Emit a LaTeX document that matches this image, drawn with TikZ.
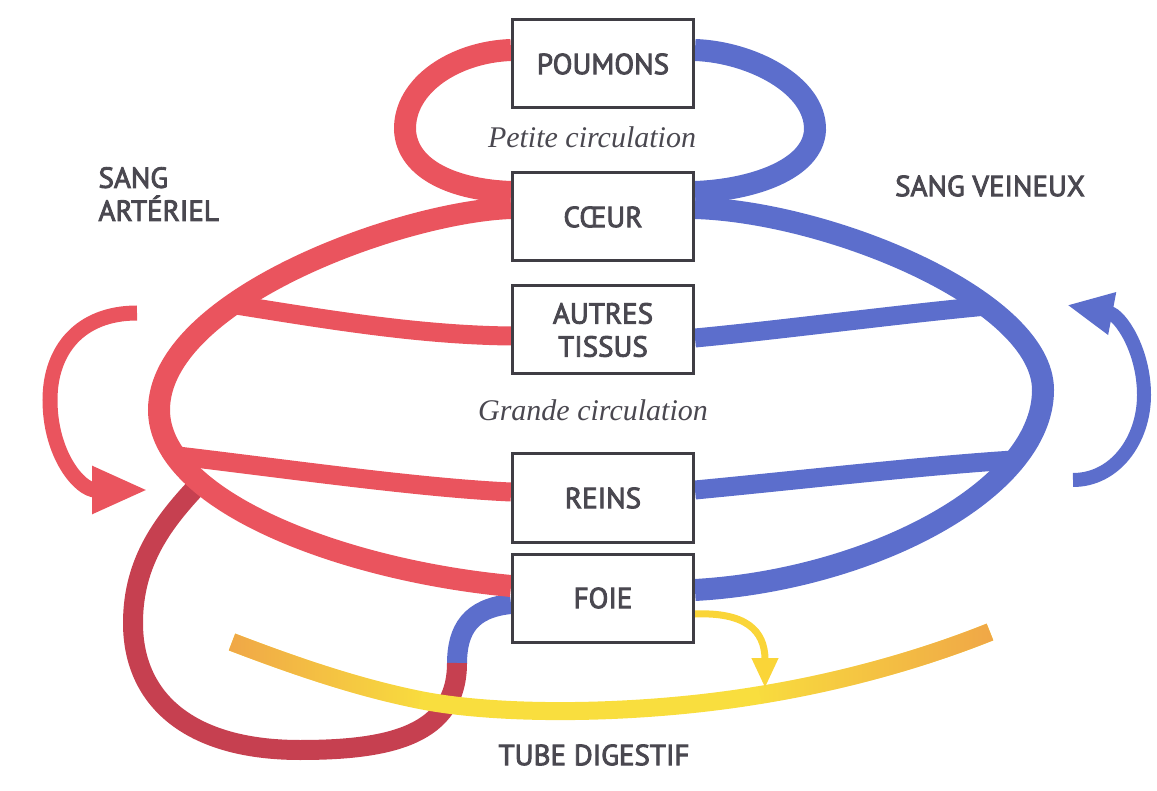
\documentclass[tikz,border=0pt]{standalone}
\usepackage{fontspec}
\setmainfont{Liberation Serif}
\newfontfamily\etiq[FakeBold=3]{PT Sans}
\usetikzlibrary{arrows.meta,calc,fadings,backgrounds}

\definecolor{rouge}{RGB}{234,84,94}
\definecolor{bleu}{RGB}{92,110,204}
\definecolor{bordeaux}{RGB}{198,64,80}
\definecolor{jaune}{RGB}{249,222,62}
\definecolor{orangec}{RGB}{240,166,72}
\definecolor{encre}{RGB}{74,72,80}

\tikzset{
  organe/.style={draw=encre!85!black,line width=3pt,fill=white,minimum width=181pt,minimum height=88pt,
                 font=\etiq\fontsize{29}{33}\selectfont,text=encre,align=center},
  titre/.style={font=\etiq\fontsize{29}{33}\selectfont,text=encre},
  legende/.style={font=\itshape\fontsize{30}{34}\selectfont,text=encre},
  arteriel/.style={draw=rouge,line width=22pt},
  veineux/.style={draw=bleu,line width=22pt},
  portal/.style={draw=bordeaux,line width=20pt},
  digestif/.style={line width=18pt}
}

\begin{document}
\begin{tikzpicture}[x=1pt,y=-1pt]
        \useasboundingbox (0,0) rectangle (1157,791);

        \node (poumons) at (603,64)  [organe] {POUMONS};
        \node (coeur)   at (603,217) [organe] {CŒUR};
        \node (tissus)  at (603,330) [organe] {AUTRES\\TISSUS};
        \node (reins)   at (603,498) [organe] {REINS};
        \node (foie)    at (603,598) [organe] {FOIE};

        \node (petite)   at (592,137) [legende] {Petite circulation};
        \node (grande)   at (593,410) [legende] {Grande circulation};
        \node (arteres)  at (95,194)  [titre,anchor=west,align=left] {SANG\\ARTÉRIEL};
        \node (veines)   at (990,186) [titre] {SANG VEINEUX};
        \node (tube)     at (594,755) [titre] {TUBE DIGESTIF};

        % points libres
        \coordinate (embA) at (236,305);
        \coordinate (embB) at (178,456);
        \coordinate (embC) at (987,306);
        \coordinate (embD) at (1013,460);
        \coordinate (jonction) at (200,483);
        \coordinate (dA) at (232,642);
        \coordinate (dB) at (420,700);
        \coordinate (dC) at (760,695);
        \coordinate (dD) at (990,632);
        \coordinate (bile) at (765,688);
        \coordinate (gDeb) at (137,313);
        \coordinate (gFin) at (148,490);
        \coordinate (dDeb) at (1073,480);
        \coordinate (dFin) at (1067,305);

        \begin{scope}[on background layer]
        % veine porte
        \draw[veineux,line width=20pt] ($(foie.west)+(0,6)$) .. controls (470,608) and (457,630) .. (457,664);
        \draw[portal] (457,663) .. controls (457,735) and (390,750) .. (300,750)
                                .. controls (190,750) and (133,700) .. (133,623)
                                .. controls (133,560) and (165,520) .. (jonction);

        % petite circulation
        \draw[arteriel] ($(coeur.west)+(0,-25)$) .. controls (455,190) and (407,170) .. (405,130)
                                                 .. controls (404,85) and (455,52) .. ($(poumons.west)+(0,-14)$);
        \draw[veineux] ($(coeur.east)+(0,-25)$) .. controls (751,190) and (813,170) .. (815,130)
                                                .. controls (816,85) and (751,52) .. ($(poumons.east)+(0,-14)$);

        % grande circulation
        \draw[arteriel] ($(coeur.west)+(0,-9)$) .. controls (400,212) and (159,300) .. (159,410)
                                                .. controls (159,500) and (340,570) .. ($(foie.west)+(0,-12)$);
        \draw[veineux] ($(coeur.east)+(0,-9)$) .. controls (830,212) and (1043,300) .. (1043,390)
                                               .. controls (1043,490) and (870,580) .. ($(foie.east)+(0,-8)$);
        \draw[arteriel,line width=19pt] (embA) .. controls (330,320) and (420,335) .. ($(tissus.west)+(0,6)$);
        \draw[arteriel,line width=19pt] (embB) .. controls (280,468) and (420,488) .. ($(reins.west)+(0,-6)$);
        \draw[veineux,line width=19pt] ($(tissus.east)+(0,8)$) .. controls (780,330) and (900,314) .. (embC);
        \draw[veineux,line width=19pt] ($(reins.east)+(0,-8)$) .. controls (800,480) and (920,466) .. (embD);

        % tube digestif
        \draw[digestif,jaune] (dA) .. controls (300,668) and (360,688) .. (dB)
                                   .. controls (500,716) and (640,715) .. (dC)
                                   .. controls (840,682) and (920,660) .. (dD);
        \draw[digestif,orangec,path fading=east] (dA) .. controls (300,668) and (360,688) .. (dB);
        \draw[digestif,orangec,path fading=west] (dC) .. controls (840,682) and (920,660) .. (dD);
        \draw[jaune!90!orange,line width=7pt,-{Triangle[length=30pt,width=25pt]}]
              ($(foie.east)+(0,16)$) .. controls (745,612) and (765,630) .. (bile);
        \end{scope}

        % sens de circulation
        \draw[rouge,line width=15pt,-{Triangle[length=56pt,width=44pt]}]
              (gDeb) .. controls (80,313) and (50,350) .. (50,400)
                     .. controls (50,455) and (80,490) .. (gFin);
        \draw[bleu,line width=14pt,-{Triangle[length=46pt,width=40pt]}]
              (dDeb) .. controls (1115,480) and (1144,440) .. (1144,395)
                     .. controls (1144,350) and (1120,315) .. (dFin);
\end{tikzpicture}
\end{document}
